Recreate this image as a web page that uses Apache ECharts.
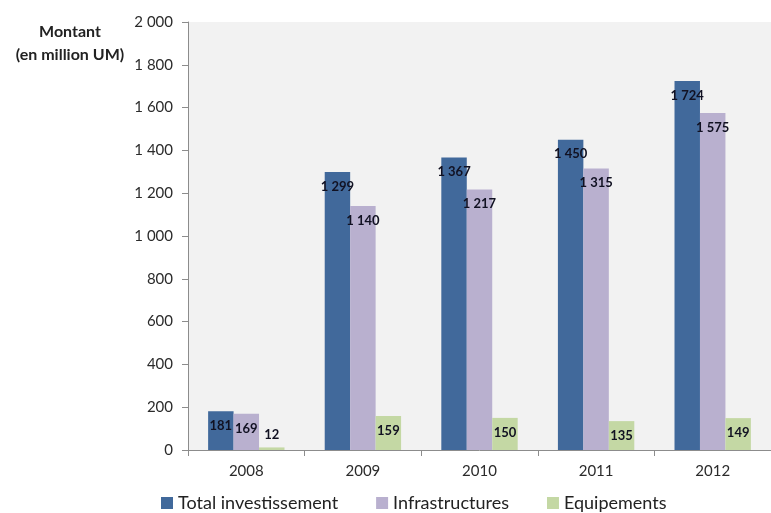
<!DOCTYPE html>
<html>
<head>
<meta charset="utf-8">
<script src="https://cdn.jsdelivr.net/npm/echarts@6/dist/echarts.min.js"></script>
<style>html,body{margin:0;padding:0;background:#fff}#c{width:771px;height:513px}</style>
</head>
<body>
<div id="c"></div>
<script>
const categories = ['2008', '2009', '2010', '2011', '2012'];
const totalInvest = [181, 1299, 1367, 1450, 1724];
const infrastructures = [169, 1140, 1217, 1315, 1575];
const equipements = [12, 159, 150, 135, 149];
const seriesNames = ['Total investissement', 'Infrastructures', 'Equipements'];
const colors = ['#41699b', '#b9b0cf', '#c4d8a4'];

function fmt(v) {
  return String(v).replace(/\B(?=(\d{3})+(?!\d))/g, ' ');
}

const font = 'Lato, "Open Sans", sans-serif';

function mkSeries(name, arr, color) {
  return {
    name: name,
    type: 'bar',
    barGap: '0%',
    barCategoryGap: '34.5%',
    itemStyle: { color: color },
    data: arr.map(v => v < 50 ? { value: v, label: { position: 'top', distance: 6 } } : v),
    label: {
      show: true,
      position: 'insideTop',
      distance: 8,
      formatter: p => fmt(p.value),
      color: '#111122',
      fontWeight: 'bold',
      fontSize: 13,
      fontFamily: font
    }
  };
}

const chart = echarts.init(document.getElementById('c'), null, { renderer: 'canvas' });
chart.setOption({
  animation: false,
  backgroundColor: '#ffffff',
  title: {
    text: 'Montant\n(en million UM)',
    left: 65,
    top: 15,
    textAlign: 'center',
    textStyle: { fontSize: 16, fontWeight: 'bold', color: '#222', lineHeight: 23, fontFamily: font }
  },
  legend: {
    left: 156,
    top: 489,
    itemWidth: 12,
    itemHeight: 12,
    itemGap: 38,
    icon: 'rect',
    textStyle: { fontSize: 18, color: '#222', fontFamily: font },
    data: seriesNames
  },
  grid: {
    left: 188,
    top: 22,
    bottom: 63,
    right: -12,
    show: true,
    backgroundColor: '#f2f2f2',
    borderWidth: 0,
    containLabel: false
  },
  xAxis: {
    type: 'category',
    data: categories,
    axisLine: { lineStyle: { color: '#8c8c8c' } },
    axisTick: { show: true, length: 6, lineStyle: { color: '#8c8c8c' } },
    axisLabel: { fontSize: 15, color: '#2b2b2b', margin: 14, fontFamily: font }
  },
  yAxis: {
    type: 'value',
    min: 0,
    max: 2000,
    interval: 200,
    axisLine: { show: true, lineStyle: { color: '#8c8c8c' } },
    axisTick: { show: true, length: 6, lineStyle: { color: '#8c8c8c' } },
    splitLine: { show: false },
    axisLabel: { fontSize: 15, color: '#2b2b2b', margin: 15, fontFamily: font, formatter: v => fmt(v) }
  },
  series: [
    mkSeries(seriesNames[0], totalInvest, colors[0]),
    mkSeries(seriesNames[1], infrastructures, colors[1]),
    mkSeries(seriesNames[2], equipements, colors[2])
  ]
});
</script>
</body>
</html>
